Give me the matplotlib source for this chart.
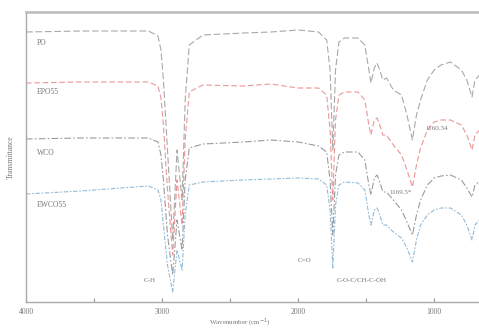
import numpy as np
import matplotlib
matplotlib.use("Agg")
import matplotlib.pyplot as plt

plt.rcParams['font.family'] = ['Liberation Serif', 'DejaVu Serif']

# Wavenumber grid (cm-1) shared by all spectra
wavenumber = [4000, 3600, 3300, 3100, 3030, 3008, 2990, 2960, 2922, 2890,
              2853, 2830, 2800, 2700, 2400, 2200, 2000, 1850, 1790, 1765,
              1745, 1725, 1700, 1660, 1560, 1510, 1480, 1465, 1440, 1420,
              1400, 1377, 1350, 1300, 1240, 1200, 1160, 1130, 1100, 1050,
              1000, 950, 880, 800, 760, 722, 700, 600]

# Transmittance (arbitrary units, stacked)
po = [268, 269, 269, 269, 264, 250, 220, 150, 60, 150,
      100, 200, 255, 265, 267, 268, 270, 268, 260, 230,
      150, 230, 258, 262, 262, 255, 230, 217, 232, 237,
      230, 220, 222, 210, 205, 185, 160, 185, 200, 220,
      230, 235, 238, 230, 220, 203, 220, 235]
epo55 = [217, 218, 218, 218, 214, 202, 175, 110, 45, 120,
         75, 160, 208, 215, 214, 216, 212, 212, 205, 170,
         100, 180, 205, 208, 208, 200, 175, 165, 180, 182,
         175, 165, 165, 155, 145, 130, 113, 135, 152, 170,
         178, 180, 180, 175, 165, 150, 165, 180]
wco = [161, 162, 162, 162, 158, 145, 120, 65, 25, 80,
       50, 120, 152, 156, 158, 160, 158, 154, 148, 120,
       65, 125, 145, 148, 148, 140, 115, 105, 122, 125,
       118, 108, 108, 100, 90, 78, 65, 85, 100, 115,
       122, 124, 125, 120, 112, 103, 115, 127]
ewco55 = [106, 109, 112, 114, 110, 100, 75, 35, 8, 50,
          30, 85, 115, 118, 120, 121, 122, 121, 115, 90,
          32, 95, 115, 118, 117, 110, 85, 75, 90, 92,
          85, 75, 75, 68, 62, 52, 38, 60, 75, 85,
          90, 92, 92, 85, 75, 60, 75, 90]

series_names = ["PO", "EPO55", "WCO", "EWCO55"]
series_values = [po, epo55, wco, ewco55]
series_label_y = [257, 208, 147, 95]

annot_text = ["C-H", "C=O", "C-O-C/CH-C-OH", "1160.34", "1169.5*"]
annot_x = [3090, 1950, 1530, 978, 1250]
annot_y = [20, 39, 20, 172, 107]

xticks = [4000, 3000, 2000, 1000]
minor_xticks = [3500, 2500, 1500]

colors = ['#8c8c8c', '#e57373', '#7a7a7a', '#6fa6cc']
styles = [(0, (6, 2.5)), (0, (5, 2.5)), (0, (6, 2, 1.5, 2)), (0, (4, 1.5, 1.5, 1.5))]

fig = plt.figure(figsize=(4.79, 3.28), dpi=100)
ax = fig.add_axes([26 / 479, 26 / 328, (492 - 26) / 479, 290 / 328])

for vals, c, ls in zip(series_values, colors, styles):
    ax.plot(wavenumber, vals, color=c, lw=0.8, ls=ls, alpha=0.75)

for name, y in zip(series_names, series_label_y):
    ax.text(3920, y, name, fontsize=5.5, color='#777777', va='center', ha='left')

for t, x, y in zip(annot_text, annot_x, annot_y):
    ax.text(x, y, t, fontsize=5, color='#777777', va='center', ha='center')

ax.set_xlim(4000, 575)
ax.set_ylim(-2, 288)
ax.set_xticks(xticks)
ax.set_xticklabels([str(v) for v in xticks])
ax.set_xticks(minor_xticks, minor=True)
ax.set_yticks([])
ax.tick_params(axis='x', which='both', direction='in', labelsize=5.5,
               colors='#999999', labelcolor='#777777', length=3, width=0.8, pad=4)
for s in ['left', 'bottom']:
    ax.spines[s].set_color('#aaaaaa')
    ax.spines[s].set_linewidth(1.0)
ax.spines['top'].set_color('#bbbbbb')
ax.spines['top'].set_linewidth(1.8)
ax.spines['right'].set_visible(False)

ax.set_xlabel("Wavenumber (cm$^{-1}$)", fontsize=5, color='#777777')
ax.xaxis.set_label_coords(0.459, -0.05)
ax.set_ylabel("Transmittance", fontsize=5.5, color='#777777', labelpad=8)

fig.savefig("out.png", dpi=100)
